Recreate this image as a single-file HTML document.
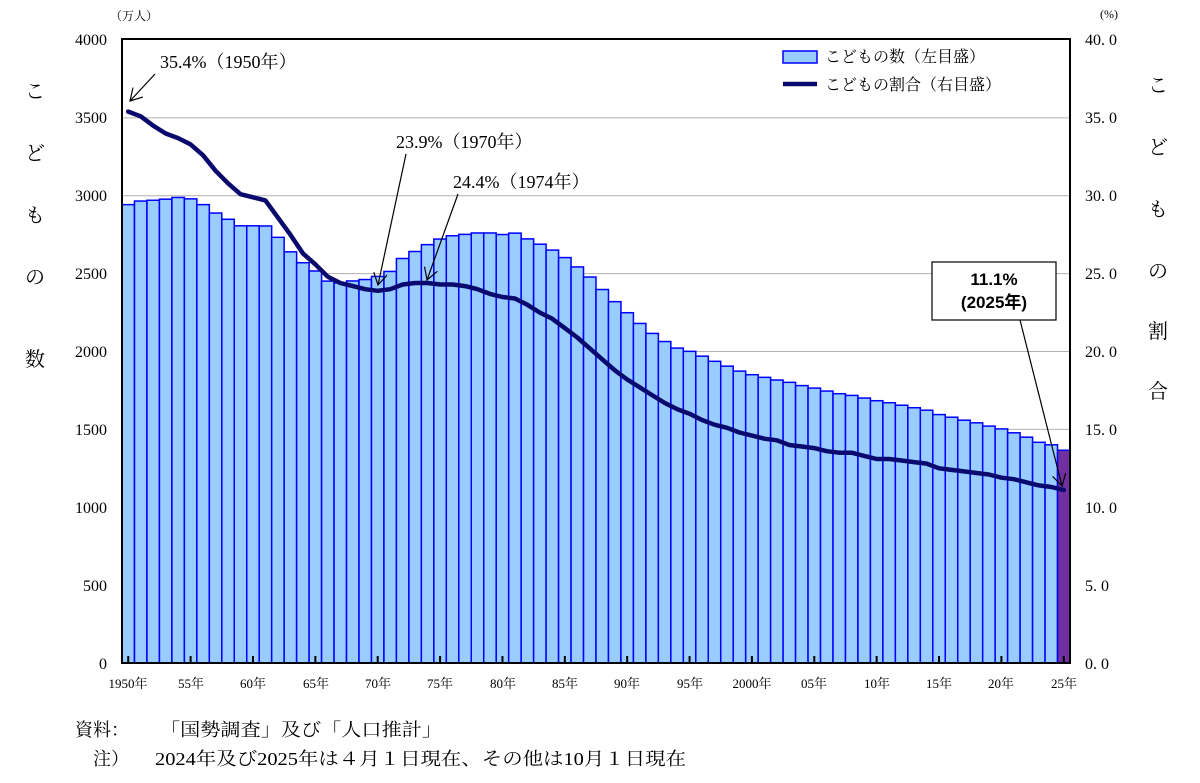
<!DOCTYPE html>
<html><head><meta charset="utf-8"><style>
body{margin:0;background:#fff;}
svg text{font-family:"Liberation Serif","Noto Serif CJK SC","Noto Sans CJK JP",serif;fill:#000;}
</style></head><body>
<svg id="s" width="1200" height="778" viewBox="0 0 1200 778" xmlns="http://www.w3.org/2000/svg">
<defs><marker id="ah" markerWidth="14" markerHeight="14" refX="12" refY="7" orient="auto" markerUnits="userSpaceOnUse"><path d="M0,0 L12,7 L0,14" fill="none" stroke="#000" stroke-width="1.2"/></marker></defs>
<g id="grid" stroke="#b0b0b0" stroke-width="1">
<line x1="122" x2="1070" y1="117.9" y2="117.9"/><line x1="122" x2="1070" y1="195.8" y2="195.8"/><line x1="122" x2="1070" y1="273.6" y2="273.6"/><line x1="122" x2="1070" y1="351.5" y2="351.5"/><line x1="122" x2="1070" y1="429.4" y2="429.4"/><line x1="122" x2="1070" y1="507.3" y2="507.3"/><line x1="122" x2="1070" y1="585.1" y2="585.1"/>
</g>
<g id="bars"></g>
<g id="ticks"></g>
<polyline id="ln" fill="none" stroke="#0a0a6e" stroke-width="4.5" stroke-linejoin="round" stroke-linecap="round"/>
<rect x="122" y="39" width="948" height="624" fill="none" stroke="#000" stroke-width="2"/>
<g font-size="16" text-anchor="end">
<text x="107" y="45">4000</text><text x="107" y="123">3500</text><text x="107" y="201">3000</text><text x="107" y="279">2500</text><text x="107" y="357">2000</text><text x="107" y="435">1500</text><text x="107" y="513">1000</text><text x="107" y="591">500</text><text x="107" y="669">0</text>
</g>
<g font-size="16">
<text x="1085" y="45">40. 0</text><text x="1085" y="123">35. 0</text><text x="1085" y="201">30. 0</text><text x="1085" y="279">25. 0</text><text x="1085" y="357">20. 0</text><text x="1085" y="435">15. 0</text><text x="1085" y="513">10. 0</text><text x="1085" y="591">5. 0</text><text x="1085" y="669">0. 0</text>
</g>
<text x="110" y="20" font-size="12">（万人）</text>
<text x="1100" y="18" font-size="12">(%)</text>
<g font-size="13" text-anchor="middle">
<text x="128" y="688">1950年</text><text x="191" y="688">55年</text><text x="253" y="688">60年</text><text x="316" y="688">65年</text><text x="378" y="688">70年</text><text x="440" y="688">75年</text><text x="503" y="688">80年</text><text x="565" y="688">85年</text><text x="627" y="688">90年</text><text x="690" y="688">95年</text><text x="752" y="688">2000年</text><text x="814" y="688">05年</text><text x="877" y="688">10年</text><text x="939" y="688">15年</text><text x="1001" y="688">20年</text><text x="1064" y="688">25年</text>
</g>
<g font-size="20" text-anchor="middle">
<text x="35" y="98">こ</text><text x="35" y="160">ど</text><text x="35" y="222">も</text><text x="35" y="284">の</text><text x="35" y="366">数</text>
<text x="1158" y="92">こ</text><text x="1158" y="154">ど</text><text x="1158" y="216">も</text><text x="1158" y="278">の</text><text x="1158" y="338">割</text><text x="1158" y="398">合</text>
</g>
<rect x="775" y="44" width="286" height="54" fill="#fff" stroke="none"/>
<rect x="783" y="51" width="34" height="12" fill="#99ccff" stroke="#0000ff" stroke-width="1.5"/>
<line x1="783" x2="817" y1="84" y2="84" stroke="#0a0a6e" stroke-width="4.5"/>
<g font-size="16"><text x="825" y="62">こどもの数（左目盛）</text><text x="825" y="90">こどもの割合（右目盛）</text></g>
<g font-size="18">
<text x="160" y="68">35.4%（1950年）</text>
<text x="396" y="148">23.9%（1970年）</text>
<text x="453" y="188">24.4%（1974年）</text>
</g>
<g stroke="#000" stroke-width="1.2" marker-end="url(#ah)">
<line x1="155" y1="74" x2="130" y2="101"/>
<line x1="406" y1="154" x2="378" y2="285"/>
<line x1="458" y1="194" x2="427" y2="280"/>
<line x1="1020" y1="320" x2="1062" y2="486"/>
</g>
<rect x="932" y="262" width="124" height="58" fill="#fff" stroke="#000" stroke-width="1.2"/>
<g font-size="17" font-weight="bold" text-anchor="middle">
<text x="994" y="285" style="font-family:'Liberation Sans','Noto Sans CJK JP',sans-serif">11.1%</text>
<text x="994" y="308" style="font-family:'Liberation Sans','Noto Sans CJK JP',sans-serif">(2025年)</text>
</g>
<g font-size="18">
<text x="75" y="736">資料：</text>
<text x="160" y="736" textLength="282" lengthAdjust="spacingAndGlyphs">「国勢調査」及び「人口推計」</text>
<text x="93" y="765">注）</text>
<text x="155" y="765" textLength="531" lengthAdjust="spacingAndGlyphs">2024年及び2025年は４月１日現在、その他は10月１日現在</text>
</g>
</svg>
<script>
var n=[2943,2966,2971,2978,2989,2980,2943,2889,2849,2807,2807,2806,2733,2640,2570,2517,2452,2440,2453,2462,2482,2514,2597,2642,2686,2722,2743,2752,2761,2761,2751,2760,2723,2689,2651,2603,2543,2478,2398,2320,2249,2180,2116,2064,2022,2001,1970,1937,1906,1874,1851,1834,1817,1802,1781,1765,1746,1729,1718,1701,1684,1671,1655,1639,1623,1595,1578,1559,1542,1521,1503,1478,1450,1417,1401,1366];
var r=[35.4,35.1,34.5,34.0,33.7,33.3,32.6,31.6,30.8,30.1,29.9,29.7,28.6,27.5,26.3,25.6,24.8,24.4,24.2,24.0,23.9,24.0,24.3,24.4,24.4,24.3,24.3,24.2,24.0,23.7,23.5,23.4,23.0,22.5,22.1,21.5,20.9,20.2,19.5,18.8,18.2,17.7,17.2,16.7,16.3,16.0,15.6,15.3,15.1,14.8,14.6,14.4,14.3,14.0,13.9,13.8,13.6,13.5,13.5,13.3,13.1,13.1,13.0,12.9,12.8,12.5,12.4,12.3,12.2,12.1,11.9,11.8,11.6,11.4,11.3,11.1];
var NS="http://www.w3.org/2000/svg",w=948/76,b=document.getElementById("bars"),t=document.getElementById("ticks"),pts=[];
for(var i=0;i<76;i++){var x=122+i*w,h=n[i]*0.15575;var e=document.createElementNS(NS,"rect");
e.setAttribute("x",x);e.setAttribute("y",663-h);e.setAttribute("width",w);e.setAttribute("height",h);
e.setAttribute("fill",i==75?"#7030a0":"#99ccff");e.setAttribute("stroke","#0000ff");e.setAttribute("stroke-width","1.5");b.appendChild(e);
var cx=x+w/2;pts.push(cx.toFixed(1)+","+(663-r[i]*15.575).toFixed(1));
if(i%5==0){var l=document.createElementNS(NS,"line");l.setAttribute("x1",cx);l.setAttribute("x2",cx);l.setAttribute("y1",656);l.setAttribute("y2",663);l.setAttribute("stroke","#000");l.setAttribute("stroke-width","2");t.appendChild(l);}}
document.getElementById("ln").setAttribute("points",pts.join(" "));
</script>
</body></html>
